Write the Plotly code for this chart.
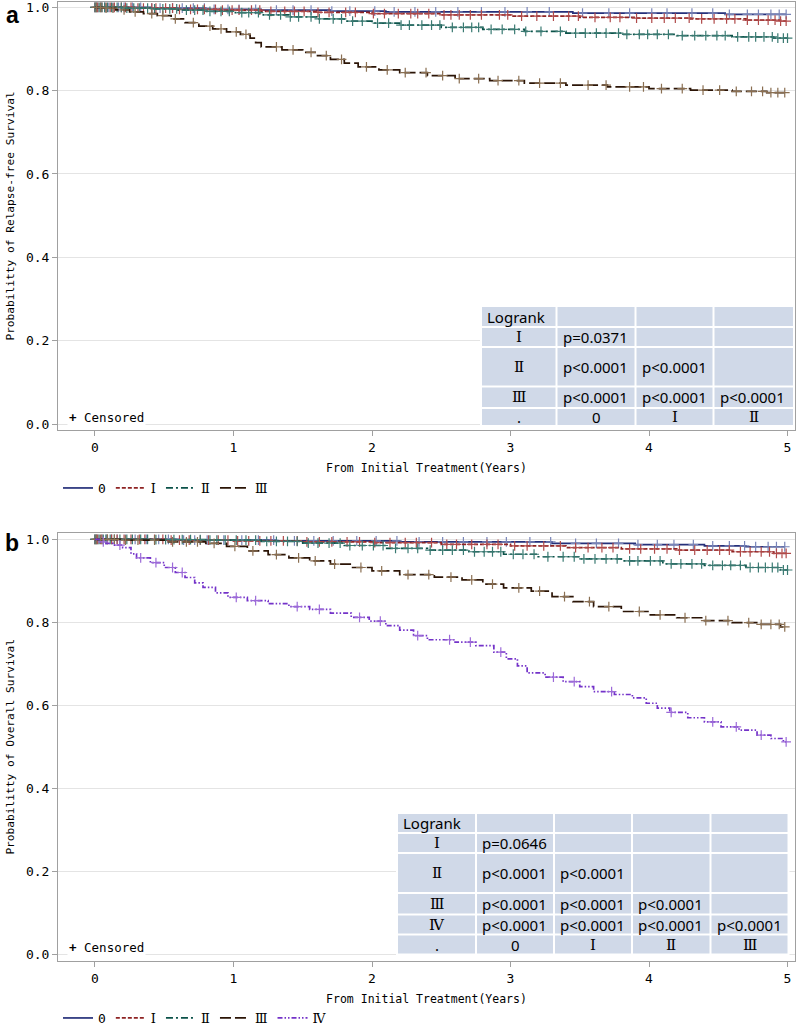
import bisect
import plotly.graph_objects as go

W, H = 797, 1026

# ---------------- DATA ----------------
groups_a = ["0", "Ⅰ", "Ⅱ", "Ⅲ"]
groups_b = ["0", "Ⅰ", "Ⅱ", "Ⅲ", "Ⅳ"]

# Panel a: relapse-free survival (event times / survival after event / censor times)
rfs_0_t = [0.4, 0.8, 1.2, 1.7, 2.1, 3.45, 4.55]
rfs_0_s = [0.998, 0.995, 0.993, 0.991, 0.989, 0.986, 0.983]
rfs_0_c = [0.0, 0.02, 0.04, 0.07, 0.1, 0.13, 0.17, 0.21, 0.27, 0.33, 0.41, 0.47, 0.56, 0.63, 0.71, 0.79,
           0.86, 0.96, 1.04, 1.16, 1.31, 1.43, 1.56, 1.71, 1.84, 2.02, 2.16, 2.31, 2.46, 2.62, 2.79, 2.96,
           3.12, 3.28, 3.52, 3.71, 3.86, 4.02, 4.13, 4.31, 4.46, 4.58, 4.71, 4.79, 4.88, 4.94, 4.99]
rfs_1_t = [0.3, 0.6, 0.9, 1.2, 1.6, 2.0, 2.5, 3.0, 3.5, 3.9, 4.3, 4.7, 4.95]
rfs_1_s = [0.998, 0.995, 0.993, 0.990, 0.988, 0.985, 0.982, 0.979, 0.976, 0.974, 0.972, 0.969, 0.967]
rfs_1_c = [0.0, 0.02, 0.05, 0.08, 0.11, 0.14, 0.19, 0.22, 0.26, 0.31, 0.35, 0.41, 0.44, 0.51, 0.56, 0.61,
           0.69, 0.74, 0.79, 0.87, 0.92, 0.99, 1.04, 1.13, 1.19, 1.27, 1.37, 1.44, 1.51, 1.61, 1.69, 1.81,
           1.88, 2.01, 2.09, 2.19, 2.28, 2.33, 2.41, 2.52, 2.57, 2.63, 2.71, 2.79, 2.92, 2.98, 3.08, 3.19,
           3.31, 3.42, 3.49, 3.61, 3.72, 3.79, 3.91, 4.02, 4.11, 4.19, 4.29, 4.38, 4.47, 4.56, 4.62, 4.71,
           4.79, 4.86, 4.91, 4.95, 4.99]
rfs_2_t = [0.2, 0.4, 0.6, 0.8, 1.0, 1.2, 1.4, 1.6, 1.8, 2.0, 2.2, 2.5, 2.8, 3.1, 3.4, 3.8, 4.2, 4.6, 4.9]
rfs_2_s = [0.998, 0.996, 0.993, 0.990, 0.987, 0.982, 0.977, 0.972, 0.967, 0.962, 0.957, 0.952, 0.947,
           0.942, 0.938, 0.935, 0.932, 0.929, 0.926]
rfs_2_c = [0.0, 0.01, 0.03, 0.05, 0.07, 0.09, 0.12, 0.16, 0.19, 0.23, 0.28, 0.32, 0.38, 0.43, 0.49, 0.54,
           0.59, 0.66, 0.72, 0.78, 0.83, 0.91, 0.97, 1.06, 1.11, 1.18, 1.26, 1.34, 1.41, 1.47, 1.56, 1.62,
           1.72, 1.78, 1.86, 1.93, 2.04, 2.12, 2.21, 2.27, 2.36, 2.43, 2.49, 2.58, 2.66, 2.72, 2.77, 2.86,
           2.94, 3.03, 3.11, 3.22, 3.36, 3.47, 3.54, 3.62, 3.69, 3.78, 3.84, 3.93, 3.99, 4.06, 4.14, 4.24,
           4.33, 4.41, 4.49, 4.55, 4.64, 4.72, 4.77, 4.83, 4.89, 4.93, 4.97, 5.0]
rfs_3_t = [0.05, 0.15, 0.25, 0.35, 0.45, 0.55, 0.65, 0.75, 0.85, 0.95, 1.05, 1.12, 1.16, 1.2, 1.35, 1.5,
           1.6, 1.7, 1.8, 1.9, 2.05, 2.2, 2.4, 2.6, 2.85, 3.1, 3.4, 3.7, 4.0, 4.3, 4.6, 4.85]
rfs_3_s = [0.998, 0.994, 0.989, 0.985, 0.980, 0.972, 0.963, 0.955, 0.948, 0.941, 0.935, 0.926, 0.915,
           0.905, 0.898, 0.892, 0.884, 0.875, 0.866, 0.857, 0.850, 0.843, 0.836, 0.829, 0.824, 0.818,
           0.813, 0.809, 0.805, 0.801, 0.798, 0.795]
rfs_3_c = [0.01, 0.04, 0.08, 0.13, 0.21, 0.29, 0.41, 0.49, 0.58, 0.71, 0.83, 0.91, 1.02, 1.09, 1.31, 1.43,
           1.56, 1.67, 1.78, 1.96, 2.11, 2.24, 2.39, 2.51, 2.63, 2.77, 2.91, 3.06, 3.21, 3.36, 3.56, 3.69,
           3.86, 3.96, 4.09, 4.24, 4.39, 4.51, 4.63, 4.74, 4.82, 4.88, 4.93, 4.98]

# Panel b: overall survival
os_0_t = [0.6, 1.3, 2.2, 3.3, 3.9, 4.4, 4.7]
os_0_s = [0.998, 0.996, 0.994, 0.990, 0.987, 0.984, 0.982]
os_0_c = [0.0, 0.02, 0.05, 0.08, 0.12, 0.16, 0.22, 0.29, 0.37, 0.46, 0.53, 0.64, 0.72, 0.81, 0.93, 1.06,
          1.18, 1.29, 1.44, 1.58, 1.72, 1.89, 2.03, 2.18, 2.34, 2.51, 2.66, 2.83, 2.97, 3.14, 3.29, 3.47,
          3.62, 3.78, 3.92, 4.06, 4.18, 4.32, 4.46, 4.58, 4.69, 4.77, 4.86, 4.92, 4.98]
os_1_t = [0.5, 1.0, 1.5, 2.0, 2.5, 3.0, 3.4, 3.8, 4.2, 4.6, 4.9]
os_1_s = [0.998, 0.996, 0.994, 0.992, 0.988, 0.984, 0.980, 0.977, 0.974, 0.970, 0.966]
os_1_c = [0.0, 0.02, 0.05, 0.09, 0.12, 0.16, 0.21, 0.26, 0.32, 0.36, 0.43, 0.49, 0.55, 0.61, 0.68, 0.76,
          0.82, 0.89, 0.96, 1.03, 1.11, 1.19, 1.27, 1.36, 1.46, 1.53, 1.62, 1.71, 1.82, 1.91, 2.02, 2.13,
          2.24, 2.32, 2.43, 2.54, 2.61, 2.72, 2.83, 2.91, 3.03, 3.12, 3.24, 3.36, 3.47, 3.56, 3.66, 3.74,
          3.86, 3.94, 4.04, 4.13, 4.22, 4.33, 4.42, 4.51, 4.58, 4.66, 4.73, 4.81, 4.87, 4.92, 4.96, 4.99]
os_2_t = [0.4, 0.8, 1.2, 1.5, 1.8, 2.1, 2.4, 2.7, 2.95, 3.2, 3.5, 3.8, 4.1, 4.4, 4.7, 4.95]
os_2_s = [0.999, 0.998, 0.995, 0.991, 0.985, 0.978, 0.974, 0.970, 0.964, 0.958, 0.953, 0.948, 0.941,
          0.937, 0.932, 0.926]
os_2_c = [0.0, 0.01, 0.03, 0.06, 0.08, 0.11, 0.14, 0.18, 0.23, 0.27, 0.33, 0.38, 0.44, 0.51, 0.57, 0.63,
          0.69, 0.76, 0.83, 0.88, 0.94, 1.02, 1.09, 1.16, 1.24, 1.31, 1.39, 1.46, 1.54, 1.61, 1.69, 1.77,
          1.84, 1.93, 2.01, 2.08, 2.17, 2.26, 2.33, 2.42, 2.51, 2.58, 2.66, 2.74, 2.81, 2.87, 2.93, 3.02,
          3.09, 3.17, 3.27, 3.38, 3.46, 3.53, 3.61, 3.69, 3.77, 3.86, 3.92, 4.01, 4.08, 4.16, 4.23, 4.31,
          4.38, 4.46, 4.53, 4.59, 4.66, 4.73, 4.79, 4.84, 4.89, 4.93, 4.97, 5.0]
os_3_t = [0.2, 0.5, 0.8, 0.95, 1.1, 1.25, 1.4, 1.55, 1.7, 1.85, 2.0, 2.2, 2.45, 2.65, 2.8, 2.95, 3.15,
          3.3, 3.45, 3.6, 3.8, 4.0, 4.2, 4.4, 4.6, 4.8, 4.95]
os_3_s = [0.998, 0.994, 0.990, 0.983, 0.972, 0.963, 0.955, 0.948, 0.940, 0.932, 0.924, 0.915, 0.909,
          0.902, 0.892, 0.883, 0.875, 0.862, 0.850, 0.838, 0.826, 0.818, 0.811, 0.804, 0.799, 0.795, 0.789]
os_3_c = [0.01, 0.04, 0.09, 0.14, 0.22, 0.31, 0.43, 0.56, 0.66, 0.74, 0.86, 1.01, 1.14, 1.31, 1.47, 1.59,
          1.73, 1.92, 2.07, 2.26, 2.41, 2.57, 2.72, 2.87, 3.06, 3.21, 3.39, 3.57, 3.71, 3.93, 4.08, 4.26,
          4.41, 4.57, 4.72, 4.81, 4.88, 4.94, 4.98]
os_4_t = [0.03, 0.08, 0.13, 0.2, 0.26, 0.3, 0.4, 0.5, 0.58, 0.65, 0.72, 0.78, 0.87, 0.96, 1.1, 1.25,
          1.4, 1.55, 1.7, 1.85, 1.98, 2.1, 2.2, 2.3, 2.4, 2.6, 2.75, 2.88, 2.97, 3.05, 3.12, 3.25, 3.38,
          3.5, 3.6, 3.75, 3.88, 3.98, 4.06, 4.15, 4.28, 4.4, 4.52, 4.65, 4.78, 4.88, 4.97]
os_4_s = [0.994, 0.990, 0.986, 0.980, 0.965, 0.955, 0.944, 0.932, 0.920, 0.908, 0.895, 0.884, 0.871,
          0.860, 0.852, 0.845, 0.838, 0.831, 0.822, 0.812, 0.803, 0.792, 0.781, 0.768, 0.758, 0.752,
          0.744, 0.728, 0.712, 0.695, 0.678, 0.668, 0.657, 0.645, 0.633, 0.626, 0.618, 0.605, 0.593,
          0.583, 0.570, 0.560, 0.548, 0.540, 0.528, 0.520, 0.512]
os_4_c = [0.06, 0.18, 0.33, 0.44, 0.56, 0.63, 1.02, 1.16, 1.46, 1.62, 1.91, 2.06, 2.33, 2.56, 2.71, 2.93,
          3.31, 3.46, 3.73, 4.16, 4.46, 4.63, 4.81, 4.99]

# Logrank tables
tab_a_rows = ["Logrank", "Ⅰ", "Ⅱ", "Ⅲ", "."]
tab_a_vals = [["", "", ""],
              ["p=0.0371", "", ""],
              ["p<0.0001", "p<0.0001", ""],
              ["p<0.0001", "p<0.0001", "p<0.0001"],
              ["0", "Ⅰ", "Ⅱ"]]
tab_b_rows = ["Logrank", "Ⅰ", "Ⅱ", "Ⅲ", "Ⅳ", "."]
tab_b_vals = [["", "", "", ""],
              ["p=0.0646", "", "", ""],
              ["p<0.0001", "p<0.0001", "", ""],
              ["p<0.0001", "p<0.0001", "p<0.0001", ""],
              ["p<0.0001", "p<0.0001", "p<0.0001", "p<0.0001"],
              ["0", "Ⅰ", "Ⅱ", "Ⅲ"]]

x_ticks = [0, 1, 2, 3, 4, 5]
y_ticks = [0.0, 0.2, 0.4, 0.6, 0.8, 1.0]
y_ticktext = ["0.0", "0.2", "0.4", "0.6", "0.8", "1.0"]

# ---------------- STYLE ----------------
line_colors = ["#25307a", "#8e2323", "#0b5249", "#2b1406", "#7433c9"]
mark_colors = ["#7884b8", "#b04a4a", "#3a7a72", "#8a6f52", "#9c6ad8"]
dashes = ["solid", "4px,2px", "7px,3px,2px,3px", "11px,4px", "5px,2px,1.5px,2px,1.5px,2px"]

MONO = "DejaVu Sans Mono"
SANS = "Noto Sans, Noto Sans CJK JP"
ROMAN = "DejaVu Serif"

def px_x(p):
    return p / W

def px_y(p):
    return 1 - p / H

def surv_at(times, surv, t):
    i = bisect.bisect_right(times, t)
    return 1.0 if i == 0 else surv[i - 1]

def roman_span(s):
    if s and all(ch in "ⅠⅡⅢⅣ" for ch in s):
        return '<span style="font-family:%s">%s</span>' % (ROMAN, s)
    return s

fig = go.Figure()

def add_curves(series, names, xa, ya, legend):
    for k, (tt, ss, cc) in enumerate(series):
        end = max(cc[-1], tt[-1])
        xs = [0.0] + tt + [end]
        ys = [1.0] + ss + [ss[-1]]
        fig.add_trace(go.Scatter(
            x=xs, y=ys, mode="lines", line=dict(shape="hv", color=line_colors[k], width=1.7,
                                                dash=dashes[k]),
            name=roman_span(names[k]), xaxis=xa, yaxis=ya, legend=legend))
        fig.add_trace(go.Scatter(
            x=cc, y=[surv_at(tt, ss, c) for c in cc], mode="markers",
            marker=dict(symbol="cross-thin", size=7, line=dict(width=1.2, color=mark_colors[k]),
                        color=mark_colors[k]),
            showlegend=False, hoverinfo="skip", xaxis=xa, yaxis=ya))

add_curves([(rfs_0_t, rfs_0_s, rfs_0_c), (rfs_1_t, rfs_1_s, rfs_1_c),
            (rfs_2_t, rfs_2_s, rfs_2_c), (rfs_3_t, rfs_3_s, rfs_3_c)], groups_a, "x", "y", "legend")
add_curves([(os_0_t, os_0_s, os_0_c), (os_1_t, os_1_s, os_1_c), (os_2_t, os_2_s, os_2_c),
            (os_3_t, os_3_s, os_3_c), (os_4_t, os_4_s, os_4_c)], groups_b, "x2", "y2", "legend2")

shapes = []
annotations = []

def add_table(rows, vals, col_edges, row_edges):
    shapes.append(dict(type="rect", xref="paper", yref="paper",
                       x0=px_x(col_edges[0][0] - 2), x1=px_x(col_edges[-1][1] + 2),
                       y0=px_y(row_edges[-1][1] + 2), y1=px_y(row_edges[0][0] - 2),
                       fillcolor="white", line=dict(width=0), layer="above"))
    for r, (ry0, ry1) in enumerate(row_edges):
        cells = [rows[r]] + vals[r]
        for c, (cx0, cx1) in enumerate(col_edges):
            shapes.append(dict(type="rect", xref="paper", yref="paper",
                               x0=px_x(cx0), x1=px_x(cx1), y0=px_y(ry1), y1=px_y(ry0),
                               fillcolor="#d0d9e8", line=dict(width=0), layer="above"))
            txt = cells[c]
            if not txt:
                continue
            left = (r == 0 and c == 0) or (c > 0 and r < len(rows) - 1)
            annotations.append(dict(
                text=roman_span(txt), xref="paper", yref="paper",
                x=px_x(cx0 + 3) if left else px_x((cx0 + cx1) / 2),
                xanchor="left" if left else "center",
                y=px_y((ry0 + ry1) / 2), yanchor="middle", showarrow=False,
                font=dict(family=SANS, size=15, color="black")))

add_table(tab_a_rows, tab_a_vals,
          [(482, 555.5), (557.5, 634.5), (636.5, 712.5), (714.5, 793)],
          [(307, 326), (328, 346), (348, 385.5), (387.5, 407), (409, 425)])
add_table(tab_b_rows, tab_b_vals,
          [(398, 475), (477, 553), (555, 631), (633, 709.5), (711.5, 787.5)],
          [(814, 832), (834, 852), (854, 892), (894, 913.5), (915.5, 933.5), (935.5, 953.5)])

for lab, yy in [("a", 15), ("b", 543)]:
    annotations.append(dict(text="<b>%s</b>" % lab, xref="paper", yref="paper", x=px_x(12), y=px_y(yy),
                            xanchor="center", yanchor="middle", showarrow=False,
                            font=dict(family="Liberation Sans", size=23, color="black")))
for yy in [417, 947]:
    annotations.append(dict(text="<b>+</b> Censored", xref="paper", yref="paper", x=px_x(67), y=px_y(yy),
                            xanchor="left", yanchor="middle", showarrow=False, bgcolor="white",
                            font=dict(family=MONO, size=12.5, color="black")))

axis_common = dict(showline=True, linecolor="#a0a0a0", linewidth=1, mirror=True, ticks="outside",
                   ticklen=5, tickcolor="#a0a0a0", zeroline=False, ticklabeloverflow="allow",
                   tickfont=dict(family=MONO, size=13, color="black"))

xa = dict(axis_common, range=[-0.267, 5.054], tickvals=x_ticks, showgrid=False,
          title=dict(text="From Initial Treatment(Years)", standoff=10,
                     font=dict(family=MONO, size=11.5, color="black")))
ya = dict(axis_common, tickvals=y_ticks, ticktext=y_ticktext, showgrid=True, gridcolor="#e4e4e4",
          gridwidth=1)

fig.update_layout(
    width=W, height=H, margin=dict(l=0, r=0, t=0, b=0, autoexpand=False),
    paper_bgcolor="white", plot_bgcolor="white",
    xaxis=dict(xa, domain=[px_x(58), px_x(795)], anchor="y"),
    yaxis=dict(ya, domain=[px_y(430), px_y(2)], range=[-0.0144, 1.0127], anchor="x",
               title=dict(text="Probabilitty of Relapse-free Survival", standoff=8,
                          font=dict(family=MONO, size=11.2, color="black"))),
    xaxis2=dict(xa, domain=[px_x(58), px_x(795)], anchor="y2"),
    yaxis2=dict(ya, domain=[px_y(961), px_y(532.7)], range=[-0.0161, 1.0159], anchor="x2",
                title=dict(text="Probabilitty of Overall Survival", standoff=8,
                           font=dict(family=MONO, size=11.2, color="black"))),
    legend=dict(orientation="h", x=px_x(58), xanchor="left", y=px_y(488), yanchor="middle",
                font=dict(family=MONO, size=13, color="black"), bgcolor="rgba(0,0,0,0)",
                itemwidth=30, tracegroupgap=0),
    legend2=dict(orientation="h", x=px_x(58), xanchor="left", y=px_y(1018), yanchor="middle",
                 font=dict(family=MONO, size=13, color="black"), bgcolor="rgba(0,0,0,0)",
                 itemwidth=30, tracegroupgap=0),
    shapes=shapes, annotations=annotations, showlegend=True,
)

fig.write_html("out.html", config={"displayModeBar": False},
               post_script="document.body.style.margin='0px';document.body.style.overflow='hidden';")
